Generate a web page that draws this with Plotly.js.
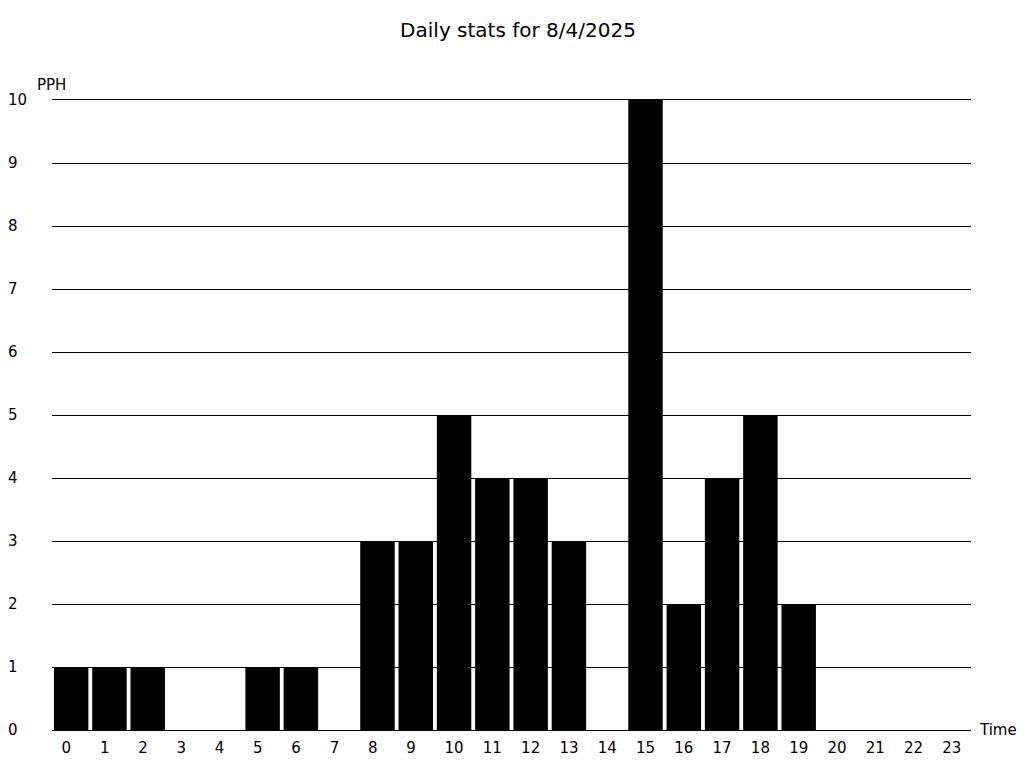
<!DOCTYPE html>
<html>
<head>
<meta charset="utf-8">
<script src="https://cdn.plot.ly/plotly-3.0.1.min.js"></script>
<style>html,body{margin:0;padding:0;background:#fff;}#chart{width:1024px;height:768px;}</style>
</head>
<body>
<div id="chart"></div>
<script>
const hours = [0,1,2,3,4,5,6,7,8,9,10,11,12,13,14,15,16,17,18,19,20,21,22,23];
const pph = [1,1,1,0,0,1,1,0,3,3,5,4,4,3,0,10,2,4,5,2,0,0,0,0];
const yTicks = [0,1,2,3,4,5,6,7,8,9,10];
const titleText = 'Daily stats for 8/4/2025';
const yLabel = 'PPH';
const xLabel = 'Time';

const NB = '\u00a0';
const xTickText = hours.map(h => h < 10 ? String(h) + NB + NB : String(h));
const yTickText = yTicks.map(v => v < 10 ? String(v) + NB + NB : String(v));

const font = 'DejaVu Sans, sans-serif';

Plotly.newPlot('chart', [{
  type: 'bar',
  x: hours,
  y: pph,
  marker: {color: '#000000', line: {width: 0}},
  hoverinfo: 'x+y'
}], {
  width: 1024, height: 768,
  margin: {l: 52, r: 53, t: 100, b: 38, pad: 0},
  paper_bgcolor: '#ffffff',
  plot_bgcolor: '#ffffff',
  font: {family: font, size: 15, color: '#000000'},
  title: {text: titleText, font: {family: font, size: 20, color: '#000000'}, x: 518/1024, xanchor: 'center', xref: 'container', y: 1 - 30/768, yanchor: 'middle', yref: 'container'},
  bargap: 0.1,
  showlegend: false,
  xaxis: {
    range: [-0.5, 23.5],
    tickmode: 'array', tickvals: hours, ticktext: xTickText,
    showgrid: false, zeroline: false,
    showline: true, mirror: true, linecolor: '#000000', linewidth: 1,
    ticks: '',
    ticklabelstandoff: 4,
    tickfont: {family: font, size: 15, color: '#000000'},
    fixedrange: true
  },
  yaxis: {
    range: [0, 10],
    tickmode: 'array', tickvals: yTicks, ticktext: yTickText,
    showgrid: true, gridcolor: '#000000', gridwidth: 1,
    zeroline: false, showline: false, ticks: '',
    ticklabelstandoff: 24,
    tickfont: {family: font, size: 15, color: '#000000'},
    fixedrange: true
  },
  annotations: [
    {text: yLabel, xref: 'paper', yref: 'paper', x: 0, y: 1, xanchor: 'left', yanchor: 'middle', xshift: -17, yshift: 15, showarrow: false, font: {family: font, size: 15, color: '#000000'}},
    {text: xLabel, xref: 'paper', yref: 'paper', x: 1, y: 0, xanchor: 'left', yanchor: 'middle', xshift: 6, yshift: 0, showarrow: false, font: {family: font, size: 15, color: '#000000'}}
  ]
}, {displayModeBar: false, staticPlot: false});
</script>
</body>
</html>
